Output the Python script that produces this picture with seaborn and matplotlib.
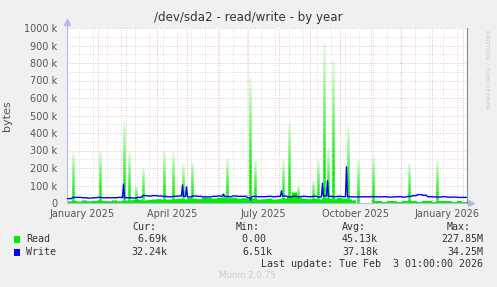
import numpy as np
import pandas as pd
import matplotlib
matplotlib.use("Agg")
import matplotlib.pyplot as plt
import matplotlib.dates as mdates
from matplotlib.ticker import FixedLocator, FuncFormatter
import seaborn as sns

# ---------------- data ----------------
start_date = "2025-01-01"
n_days = 400
block_days = 5

# read baseline (k bytes/s), one value per 5-day block; nan = no data
read_base_k = [10, 12, 8, 15, 10, 12, 14,
               12, 10, 15, 10, 12, 14, 18,
               20, 15, 18, 20, 22, 18, 20,
               22, 25, 20, 28, 25, 22, 30,
               28, 25, 30, 32, 28, 30, 25,
               28, 22, 25, 20, 22, 25, 20,
               22, 25, 35, 60, 30, 25, 22,
               25, 20, 28, 25, 22, 30, 25,
               20, 15,
               np.nan, np.nan, np.nan,
               10, 12, 8, 10, 12, 8, 10, 12, 10, 8, 10, 12, 8, 10, 12, 10, 8, 10, 7]

write_base_k = [25, 32, 32, 30, 28, 30, 32,
                30, 30, 30, 32, 30, 30, 28,
                32, 42, 40, 42, 40, 38, 35,
                38, 40, 38, 35, 40, 38, 35,
                35, 38, 40, 38, 36, 40, 38,
                38, 30, 38, 36, 36, 38, 36,
                38, 40, 36, 38, 36, 38, 36,
                38, 35, 40, 38, 36, 38, 36,
                36, 35,
                np.nan, np.nan, np.nan,
                36, 35, 36, 34, 35, 36, 34, 38, 42, 48, 44, 36, 35, 34, 36, 33, 34, 32, 32]

# daily spikes (day offset from start, value in k)
read_spike_day = [5, 32, 56, 61, 68, 75, 96, 105, 115, 124, 159, 182, 187,
                  215, 221, 230, 245, 250, 256, 260, 265, 280, 290, 305, 341, 369]
read_spike_k = [290, 300, 470, 290, 100, 205, 300, 290, 225, 235, 255, 720, 245,
                245, 455, 100, 130, 245, 915, 320, 815, 440, 245, 270, 230, 245]

write_spike_day = [56, 115, 119, 156, 183, 214, 255, 260, 279]
write_spike_k = [108, 103, 92, 51, 17, 70, 113, 127, 207]

x_labels = ["January 2025", "April 2025", "July 2025", "October 2025", "January 2026"]
x_label_dates = ["2025-01-16", "2025-04-16", "2025-07-16", "2025-10-16", "2026-01-16"]

legend_names = ["Read", "Write"]
cur_vals = ["6.69k", "32.24k"]
min_vals = ["0.00 ", "6.51k"]
avg_vals = ["45.13k", "37.18k"]
max_vals = ["227.85M", "34.25M"]

# ---------------- build series ----------------
start = pd.Timestamp(start_date)
days = np.arange(n_days)
dates = start + pd.to_timedelta(days, unit="D")
read = np.repeat(np.array(read_base_k, float), block_days) * 1000
write = np.repeat(np.array(write_base_k, float), block_days) * 1000
for d, v in zip(write_spike_day, write_spike_k):
    write[d] = v * 1000
df = pd.DataFrame({"date": dates, "read": read, "write": write})
last = pd.DataFrame({"date": [start + pd.Timedelta(days=n_days)],
                     "read": [read[-1]], "write": [write[-1]]})
df = pd.concat([df, last], ignore_index=True)
dfw = pd.DataFrame({"date": dates + pd.Timedelta(hours=12), "write": write})

GREEN = "#00EE00"
BLUE = "#0000FF"
BG = "#F0F0F0"

sns.set_style("white")
plt.rcParams["font.family"] = ["DejaVu Sans"]

W, H = 497, 287
fig = plt.figure(figsize=(W / 100, H / 100), dpi=100, facecolor=BG)
L, R, T, B = 67, 467, 28, 203
ax = fig.add_axes([L / W, 1 - B / H, (R - L) / W, (B - T) / H])
ax.set_facecolor("white")

x0 = start
x1 = start + pd.Timedelta(days=n_days)
ax.set_xlim(x0, x1)
ax.set_ylim(0, 1_000_000)

# grid
MGRID = "#F0A0A0"
GRID = "#CFCFCF"
dots = (0, (1, 2))
for v in np.arange(50_000, 1_000_001, 100_000):
    ax.axhline(v, color=GRID, lw=0.6, ls=dots, zorder=0)
for v in np.arange(100_000, 1_000_001, 100_000):
    ax.axhline(v, color=MGRID, lw=0.6, ls=dots, zorder=0)
weeks = pd.date_range("2025-01-13", x1, freq="14D")
for w in weeks:
    ax.axvline(w, color=GRID, lw=0.6, ls=dots, zorder=0)
months = pd.date_range(x0, x1, freq="MS")
for m in months:
    ax.axvline(m, color=MGRID, lw=0.6, ls=dots, zorder=0)

# read area
ax.fill_between(df["date"], 0, df["read"], step="post", color=GREEN, lw=0, zorder=2)

# read spikes with fading top
nseg = 24
for d, v in zip(read_spike_day, read_spike_k):
    xd = start + pd.Timedelta(days=d) + pd.Timedelta(hours=12)
    base = read[d] if not np.isnan(read[d]) else 0
    hs = np.linspace(base, v * 1000, nseg + 1)
    cols = []
    for i in range(nseg):
        f = (i + 0.5) / nseg
        a = 1.0 if f < 0.2 else 1.0 - 0.9 * (f - 0.2) / 0.8
        cols.append((0.0, 0.93, 0.0, a))
    ax.vlines([xd] * nseg, hs[:-1], hs[1:], colors=cols, lw=1.8, zorder=2)

# write line
sns.lineplot(data=dfw, x="date", y="write", color=BLUE, lw=1.0, ax=ax, zorder=3)

# axes cosmetics
for s in ["top", "right"]:
    ax.spines[s].set_visible(False)
AXC = "#B8B8E8"
ax.spines["left"].set_color(AXC)
ax.spines["bottom"].set_color(AXC)
ax.spines["left"].set_linewidth(0.8)
ax.spines["bottom"].set_linewidth(0.8)
ax.plot([1, 1], [0, 1], transform=ax.transAxes, color="#888888", lw=0.8, clip_on=False, zorder=4)
ax.plot([0], [1.035], transform=ax.transAxes, marker="^", color=AXC, ms=4, clip_on=False)
ax.plot([0, 0], [1, 1.03], transform=ax.transAxes, color=AXC, lw=0.8, clip_on=False)
ax.plot([1.0095], [0], transform=ax.transAxes, marker=">", color=AXC, ms=4, clip_on=False)
ax.plot([1, 1.008], [0, 0], transform=ax.transAxes, color=AXC, lw=0.8, clip_on=False)

ax.set_xlabel("")
ax.set_ylabel("bytes", fontsize=8, color="#555555")
ax.yaxis.set_label_coords(-0.137, 0.5)

yt = np.arange(0, 1_000_001, 100_000)
ax.yaxis.set_major_locator(FixedLocator(yt))
ax.yaxis.set_major_formatter(FuncFormatter(lambda v, p: "0" if v == 0 else f"{int(round(v / 1000))} k"))
ax.tick_params(axis="y", labelsize=7, colors="#555555", length=2, pad=5, color=MGRID)

ax.set_xticks(pd.to_datetime(x_label_dates))
ax.set_xticklabels(x_labels)
ax.tick_params(axis="x", which="major", labelsize=7, colors="#555555", length=0, pad=4)
ax.set_xticks(months, minor=True)
ax.tick_params(axis="x", which="minor", length=2, color="#F08080", width=0.6)

fig.text(0.5, 1 - 17 / H, "/dev/sda2 - read/write - by year", ha="center", va="center",
         fontsize=8.6, color="#333333")
fig.text(487 / W, 1 - 30 / H, "RRDTOOL / TOBI OETIKER", rotation=270, ha="center", va="top",
         fontsize=4.4, color="#C4C4C4")

# legend block
MONO = "DejaVu Sans Mono"
fs = 7.2
tc = "#333333"
def t(x, y, s, ha="left", **kw):
    kw.setdefault("color", tc)
    kw.setdefault("fontsize", fs)
    kw.setdefault("family", MONO)
    fig.text(x / W, 1 - y / H, s, ha=ha, va="center", **kw)

t(132, 227, "Cur:")
t(236, 227, "Min:")
t(342, 227, "Avg:")
t(447, 227, "Max:")
rows_y = [239, 252]
for name, c, y, cu, mi, av, ma in zip(legend_names, [GREEN, BLUE], rows_y,
                                       cur_vals, min_vals, avg_vals, max_vals):
    fig.patches.append(plt.Rectangle((14 / W, 1 - (y + 3.5) / H), 6 / W, 6.5 / H,
                                     transform=fig.transFigure, facecolor=c,
                                     edgecolor="none", figure=fig))
    t(26, y, name)
    t(167, y, cu, ha="right")
    t(272, y, mi, ha="right")
    t(378, y, av, ha="right")
    t(483, y, ma, ha="right")
t(483, 264, "Last update: Tue Feb  3 01:00:00 2026", ha="right")
fig.text(247 / W, 1 - 276 / H, "Munin 2.0.75", ha="center", va="center",
         fontsize=6.3, color="#CCCCCC")

fig.savefig("out.png", dpi=100, facecolor=BG)
